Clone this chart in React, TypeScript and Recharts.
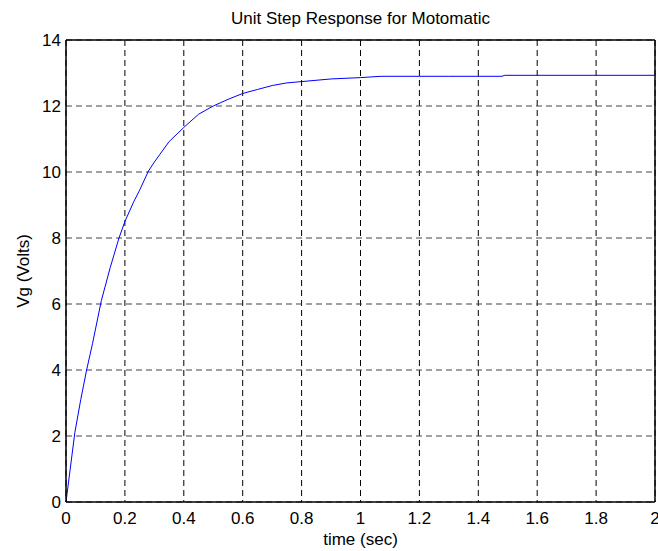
import React from 'react';
import { LineChart, Line, XAxis, YAxis, CartesianGrid, ReferenceLine } from 'recharts';

const timeSec = [0, 0.01, 0.03, 0.05, 0.07, 0.09, 0.12, 0.15, 0.18, 0.2, 0.23, 0.25, 0.28, 0.3, 0.35, 0.4, 0.45, 0.5, 0.55, 0.6, 0.65, 0.7, 0.75, 0.8, 0.9, 1.0, 1.07, 1.2, 1.3, 1.48, 1.49, 1.6, 1.8, 2.0];
const vgVolts = [0, 0.7, 2.1, 3.1, 4.0, 4.8, 6.1, 7.1, 8.0, 8.5, 9.1, 9.45, 10.03, 10.3, 10.92, 11.35, 11.75, 12.0, 12.2, 12.38, 12.5, 12.62, 12.7, 12.74, 12.82, 12.86, 12.9, 12.9, 12.9, 12.9, 12.93, 12.93, 12.93, 12.93];
const xTicks = [0, 0.2, 0.4, 0.6, 0.8, 1, 1.2, 1.4, 1.6, 1.8, 2];
const yTicks = [0, 2, 4, 6, 8, 10, 12, 14];

const data = timeSec.map((t, i) => ({ t, v: vgVolts[i] }));

const FONT = '"Liberation Sans", Arial, sans-serif';
const FS = 17;

const fmtX = (v: number) => (Number.isInteger(v) ? String(v) : v.toFixed(1));

const YLabel = (props: any) => {
  const vb = props.viewBox || {};
  const x = (vb.x || 0) + 23;
  const y = (vb.y || 0) + (vb.height || 0) / 2;
  return (
    <text x={x} y={y} transform={`rotate(-90 ${x} ${y})`} textAnchor="middle" dominantBaseline="central" fontFamily={FONT} fontSize={FS} fill="#000">
      Vg (Volts)
    </text>
  );
};

export default function App() {
  return (
    <div style={{ position: 'absolute', left: 0, top: 0, width: 658, height: 551, background: '#fff' }}>
      <div style={{ position: 'absolute', left: 66, top: 9, width: 589, textAlign: 'center', fontFamily: FONT, fontSize: FS, color: '#000', whiteSpace: 'nowrap' }}>
        Unit Step Response for Motomatic
      </div>
      <LineChart width={658} height={551} data={data} margin={{ top: 40, right: 3, bottom: 0, left: 0 }}>
        <CartesianGrid horizontal={false} stroke="#000" strokeDasharray="6 4" />
        <CartesianGrid vertical={false} stroke="#444" strokeDasharray="6 4" />
        <XAxis
          dataKey="t"
          type="number"
          domain={[0, 2]}
          ticks={xTicks}
          tickFormatter={fmtX}
          height={49}
          tickLine={false}
          tickSize={0}
          tickMargin={10}
          axisLine={{ stroke: '#000', strokeWidth: 1.5 }}
          tick={{ fill: '#000', fontFamily: FONT, fontSize: FS }}
          interval={0}
          allowDataOverflow
          label={{ value: 'time (sec)', position: 'insideBottom', offset: 6, fill: '#000', fontFamily: FONT, fontSize: FS }}
        />
        <YAxis
          type="number"
          domain={[0, 14]}
          ticks={yTicks}
          width={66}
          tickLine={false}
          tickSize={0}
          tickMargin={5}
          axisLine={{ stroke: '#000', strokeWidth: 1.5 }}
          tick={{ fill: '#000', fontFamily: FONT, fontSize: FS }}
          interval={0}
          allowDataOverflow
          label={<YLabel />}
        />
        <ReferenceLine y={14} stroke="#000" strokeWidth={1.5} />
        <ReferenceLine x={2} stroke="#000" strokeWidth={1.5} />
        <Line type="linear" dataKey="v" stroke="#0000ff" strokeWidth={1} dot={false} isAnimationActive={false} />
      </LineChart>
    </div>
  );
}
